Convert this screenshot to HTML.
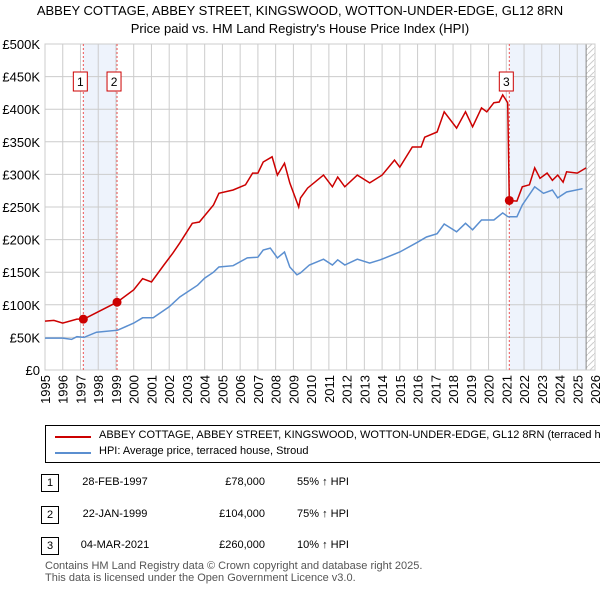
<!DOCTYPE html>
<html><head><meta charset="utf-8"><style>
body{margin:0;width:600px;height:590px;background:#fff;font-family:"Liberation Sans","DejaVu Sans",sans-serif;position:relative;overflow:hidden;color:#000}
.t{position:absolute;white-space:nowrap}
</style></head><body>
<div class="t" style="left:0;width:600px;text-align:center;top:3px;font-size:13px">ABBEY COTTAGE, ABBEY STREET, KINGSWOOD, WOTTON-UNDER-EDGE, GL12 8RN</div>
<div class="t" style="left:0;width:600px;text-align:center;top:21px;font-size:13px">Price paid vs. HM Land Registry's House Price Index (HPI)</div>
<svg id="c" width="600" height="420" style="position:absolute;left:0;top:0"></svg>
<div style="position:absolute;left:45px;top:425px;width:560px;height:36px;border:1px solid #000;overflow:hidden">
<div style="position:absolute;left:9px;top:10px;width:36px;height:2px;background:#c00"></div>
<div class="t" style="left:53px;top:3px;font-size:11px">ABBEY COTTAGE, ABBEY STREET, KINGSWOOD, WOTTON-UNDER-EDGE, GL12 8RN (terraced house)</div>
<div style="position:absolute;left:9px;top:26px;width:36px;height:2px;background:#5b8fd0"></div>
<div class="t" style="left:53px;top:19px;font-size:11px">HPI: Average price, terraced house, Stroud</div>
</div>
<div id="tbl"></div>
<div class="t" style="left:45px;top:560px;font-size:11px;color:#555;line-height:12px">Contains HM Land Registry data © Crown copyright and database right 2025.<br>This data is licensed under the Open Government Licence v3.0.</div>
<script>
const hpiYears=[1995,1996,1996.5,1996.8,1997.2,1997.9,1999.1,2000,2000.5,2001.1,2002,2002.6,2003.6,2004,2004.5,2004.8,2005.6,2006.4,2007,2007.3,2007.7,2008.1,2008.5,2008.8,2009.2,2009.4,2009.9,2010.7,2011.2,2011.5,2011.9,2012.6,2013.3,2013.9,2015,2016,2016.5,2017.1,2017.5,2018.2,2018.7,2019.1,2019.6,2020.3,2020.8,2021.1,2021.6,2021.9,2022.6,2023.1,2023.6,2023.9,2024.4,2025.3];
const hpiValues=[49,49,47,51,50,58,61,72,80,80,97,112,130,141,150,158,160,172,173,184,187,172,181,158,146,149,161,170,161,169,161,170,164,169,181,196,204,209,224,212,225,215,230,230,241,235,235,253,281,271,276,264,273,278];
const redYears=[1995,1995.5,1996,1996.8,1997.16,1997.4,1999.06,2000,2000.5,2001,2001.7,2002.2,2002.6,2003.3,2003.7,2004.5,2004.8,2005.6,2006.3,2006.7,2007,2007.3,2007.8,2008.1,2008.5,2008.8,2009.3,2009.4,2009.8,2010.7,2011.2,2011.5,2011.9,2012.6,2013.3,2014,2014.7,2015,2015.7,2016.2,2016.4,2017.1,2017.5,2018.2,2018.7,2019.1,2019.6,2019.9,2020.3,2020.6,2020.8,2021.08,2021.17,2021.6,2021.9,2022.3,2022.6,2022.9,2023.3,2023.6,2023.9,2024.2,2024.4,2025,2025.5];
const redValues=[75,76,72,78,78,81,104,123,140,135,161,179,195,225,227,253,271,276,284,302,302,319,327,299,317,287,250,264,279,299,281,296,281,299,287,299,322,311,342,342,357,365,396,371,396,373,402,396,410,411,422,410,260,259,281,284,310,294,302,291,299,288,304,302,310];
const salesYears=[1997.16,1999.06,2021.17];
const salesValues=[78000,104000,260000];
const salesLabels=["1","2","3"];
const yTicks=[0,50,100,150,200,250,300,350,400,450,500];
const yTickLabels=["£0","£50K","£100K","£150K","£200K","£250K","£300K","£350K","£400K","£450K","£500K"];
const xTicks=[1995,1996,1997,1998,1999,2000,2001,2002,2003,2004,2005,2006,2007,2008,2009,2010,2011,2012,2013,2014,2015,2016,2017,2018,2019,2020,2021,2022,2023,2024,2025,2026];
const rows=[["1","28-FEB-1997","£78,000","55% ↑ HPI"],["2","22-JAN-1999","£104,000","75% ↑ HPI"],["3","04-MAR-2021","£260,000","10% ↑ HPI"]];
const L=45,R=595,T=44,B=370;
const X=y=>L+(y-1995)*(R-L)/31, Y=v=>B-v*(B-T)/500;
const svg=document.getElementById('c');const NS='http://www.w3.org/2000/svg';
function mk(t,a,p){const e=document.createElementNS(NS,t);for(const k in a)e.setAttribute(k,a[k]);(p||svg).appendChild(e);return e;}
// shaded bands
let b1=mk('rect',{x:X(salesYears[0]),y:T,width:X(salesYears[1])-X(salesYears[0]),height:B-T,fill:'#eef3fc'});


let b2=mk('rect',{x:X(salesYears[2]),y:T,width:X(2025.5)-X(salesYears[2]),height:B-T,fill:'#eef3fc'});


const defs=mk('defs',{});const pat=mk('pattern',{id:'h',width:6,height:6,patternUnits:'userSpaceOnUse'},defs);mk('path',{d:'M0,6L6,0',stroke:'#ccc','stroke-width':1},pat);
let hz=mk('rect',{x:X(2025.5),y:T,width:R-X(2025.5),height:B-T,fill:'url(#h)'});


for(const t of yTicks){mk('line',{x1:L,x2:R,y1:Y(t),y2:Y(t),stroke:'#ccc'});}
yTicks.forEach((t,i)=>{const e=mk('text',{x:40,y:Y(t)+5,'text-anchor':'end','font-size':13});e.textContent=yTickLabels[i];

});
for(const t of xTicks){mk('line',{x1:X(t),x2:X(t),y1:T,y2:B,stroke:'#ccc'});
const e=mk('text',{x:0,y:0,'text-anchor':'end','font-size':13,transform:`translate(${X(t)+5},${B+5}) rotate(-90)`});e.textContent=t;

}
mk('line',{x1:X(2025.5),x2:X(2025.5),y1:T,y2:B,stroke:'#888'});
mk('rect',{x:L,y:T,width:R-L,height:B-T,fill:'none',stroke:'#ccc'});
salesYears.forEach((s,i)=>{mk('line',{x1:X(s),x2:X(s),y1:T,y2:B,stroke:'#e55','stroke-dasharray':'2,2'});});
function line(xs,vs,col,name){const d=xs.map((x,i)=>(i?'L':'M')+X(x).toFixed(1)+','+Y(vs[i]).toFixed(1)).join('');const p=mk('path',{d,fill:'none',stroke:col,'stroke-width':1.5});

}
line(hpiYears,hpiValues,'#5b8fd0','hpi-line');
line(redYears,redValues,'#cc0000','price-line');
salesYears.forEach((s,i)=>{const c=mk('circle',{cx:X(s),cy:Y(salesValues[i]/1000),r:4.5,fill:'#cc0000'});


const off=i==2?-8:-8;
const g=mk('rect',{x:X(s)+off-2,y:72,width:14,height:19,fill:'#fff',stroke:'#c00'});
const tx=mk('text',{x:X(s)+off+5,y:86,'text-anchor':'middle','font-size':12});tx.textContent=salesLabels[i];

});
const tb=document.getElementById('tbl');
rows.forEach((r,i)=>{const top=474+i*31.5;const d=document.createElement('div');


d.innerHTML=`<div class="t" style="left:41px;top:${top}px;width:16px;height:16px;border:1px solid #000;text-align:center;font-size:11px;line-height:16px">${r[0]}</div><div class="t" style="left:60px;width:110px;text-align:center;top:${top+2}px;font-size:11px">${r[1]}</div><div class="t" style="left:170px;width:95px;text-align:right;top:${top+2}px;font-size:11px">${r[2]}</div><div class="t" style="left:297px;top:${top+2}px;font-size:11px">${r[3]}</div>`;tb.appendChild(d);});
</script>
</body></html>
